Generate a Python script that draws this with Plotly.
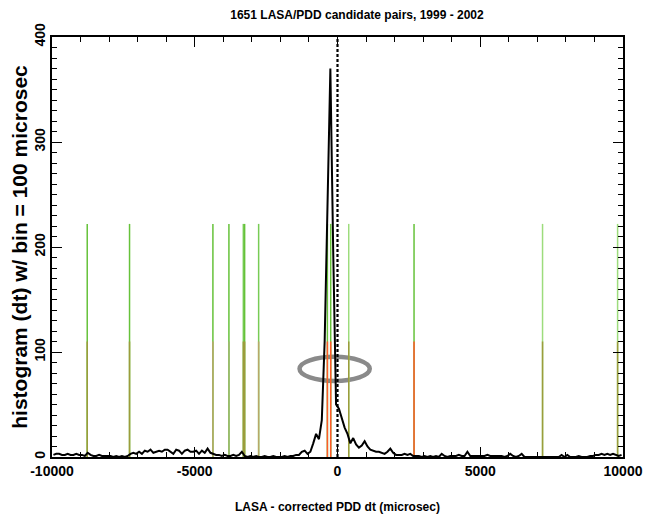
import plotly.graph_objects as go

# ---- data ----
bin_width = 100
bin_start = -10000
counts = [
    2, 3, 3, 2, 2, 3, 2, 2, 3, 2,        # -10000 .. -9000
    2, 1, 4, 2, 1, 1, 2, 1, 1, 1,        # -9000 .. -8000
    1, 0, 1, 0, 1, 0, 1, 3, 4, 3,        # -8000 .. -7000
    5, 3, 6, 5, 7, 4, 5, 6, 5, 7,        # -7000 .. -6000
    7, 5, 3, 7, 6, 3, 6, 7, 5, 5,        # -6000 .. -5000
    6, 3, 6, 4, 8, 4, 3, 2, 2, 1,        # -5000 .. -4000
    2, 1, 1, 2, 1, 2, 5, 1, 0, 1,        # -4000 .. -3000
    0, 1, 0, 0, 1, 0, 0, 1, 0, 0,        # -3000 .. -2000
    0, 1, 0, 1, 1, 2, 2, 5, 6, 3,        # -2000 .. -1000
    5, 13, 22, 17, 35, 110, 230, 370, 195, 50,   # -1000 .. 0
    46, 36, 28, 22, 13, 18, 12, 9, 11, 15,       # 0 .. 1000
    10, 7, 6, 5, 5, 4, 3, 5, 8, 4,       # 1000 .. 2000
    2, 2, 2, 3, 2, 3, 1, 1, 1, 0,        # 2000 .. 3000
    1, 0, 1, 0, 1, 0, 3, 1, 0, 1,        # 3000 .. 4000
    1, 1, 2, 1, 1, 5, 1, 1, 1, 1,        # 4000 .. 5000
    1, 1, 2, 1, 1, 1, 1, 1, 0, 1,        # 5000 .. 6000
    3, 1, 0, 1, 3, 0, 0, 0, 0, 0,        # 6000 .. 7000
    0, 0, 0, 0, 0, 0, 0, 0, 2, 0,        # 7000 .. 8000
    2, 0, 0, 0, 1, 0, 0, 0, 1, 1,        # 8000 .. 9000
    2, 2, 3, 2, 3, 2, 3, 2, 1, 2,        # 9000 .. 10000
]
bin_centers = [bin_start + bin_width / 2 + i * bin_width for i in range(len(counts))]

# candidate event markers (dt in microsec)
event_dt = [-8766, -7284, -4364, -3803, -3298, -3253, -2762, -354, -238, 393, 2681, 7182, 9811]
event_upper_color = ["#66c23a", "#66c23a", "#66c23a", "#66c23a", "#78cc55", "#66c23a", "#78cc55",
                     "#66c23a", "#66c23a", "#9ddc7c", "#66c23a", "#9ddc7c", "#9ddc7c"]
event_lower_color = ["#9c9c3c", "#9c9c3c", "#b8a868", "#a0b870", "#9c9c3c", "#9c9c3c", "#b8a868",
                     "#ff5a28", "#ff5a28", "#9c9c3c", "#ff5a28", "#9c9c3c", "#9c9c3c"]
upper_height = 222
lower_height = 110

# highlight ellipse (data units)
ell_cx, ell_cy = -100, 84
ell_rx, ell_ry = 1230, 11.5

x_range = [-10000, 10000]
y_range = [0, 400]
x_ticks = [-10000, -5000, 0, 5000, 10000]
x_tick_text = ["-10000", "-5000", "0", "5000", "10000"]
y_ticks = [0, 100, 200, 300, 400]
y_tick_text = ["0", "100", "200", "300", "400"]

FONT = "Liberation Sans, Arial, Helvetica, sans-serif"

fig = go.Figure()

# upper (green) parts
for x, c in zip(event_dt, event_upper_color):
    fig.add_trace(go.Scatter(x=[x, x], y=[0, upper_height], mode="lines",
                             line=dict(color=c, width=1.5), showlegend=False, hoverinfo="skip"))
# lower parts
for x, c in zip(event_dt, event_lower_color):
    fig.add_trace(go.Scatter(x=[x, x], y=[0, lower_height], mode="lines",
                             line=dict(color=c, width=1.5), showlegend=False, hoverinfo="skip"))

# histogram curve
fig.add_trace(go.Scatter(x=bin_centers, y=counts, mode="lines",
                         line=dict(color="black", width=2), showlegend=False))

# zero line dashed
fig.add_trace(go.Scatter(x=[0, 0], y=y_range, mode="lines",
                         line=dict(color="black", width=2.2, dash="3px,2px"),
                         showlegend=False, hoverinfo="skip"))

fig.add_shape(type="circle", xref="x", yref="y",
              x0=ell_cx - ell_rx, x1=ell_cx + ell_rx, y0=ell_cy - ell_ry, y1=ell_cy + ell_ry,
              line=dict(color="#8a8a8a", width=4.5), layer="below")

axis_common = dict(
    showgrid=False, zeroline=False, showline=True, linecolor="black", linewidth=1.5,
    mirror="ticks", ticks="inside", tickcolor="black", tickwidth=1, ticklen=10,
    automargin=False,
    tickfont=dict(family=FONT, size=14, color="black", weight="bold"),
)

fig.update_xaxes(range=x_range, tickvals=x_ticks, ticktext=x_tick_text, **axis_common,
                 minor=dict(dtick=1000, ticks="inside", ticklen=5, tickcolor="black"),
                 title=dict(text="LASA - corrected PDD dt (microsec)", standoff=25,
                            font=dict(family=FONT, size=12, color="black", weight="bold")))
fig.update_yaxes(range=y_range, tickvals=y_ticks, ticktext=y_tick_text, tickangle=-90, **axis_common,
                 minor=dict(dtick=10, ticks="inside", ticklen=5, tickcolor="black"),
                 title=dict(text="histogram (dt) w/ bin = 100 microsec", standoff=2,
                            font=dict(family=FONT, size=21, color="black", weight="bold")))

fig.update_layout(
    width=645, height=509,
    margin=dict(l=44, r=30, t=29, b=60),
    paper_bgcolor="white", plot_bgcolor="white",
    title=dict(text="1651 LASA/PDD candidate pairs, 1999 - 2002", x=349 / 645, xanchor="center",
               y=1 - 7 / 509, yanchor="middle",
               font=dict(family=FONT, size=12, color="black", weight="bold")),
)

fig.write_html("out.html")
